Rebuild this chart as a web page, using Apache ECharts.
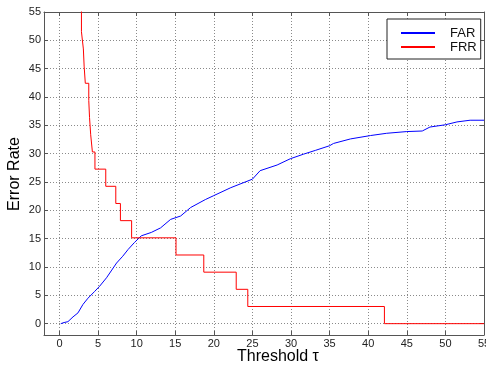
<!DOCTYPE html>
<html>
<head>
<meta charset="utf-8">
<script src="https://cdn.jsdelivr.net/npm/echarts@6/dist/echarts.min.js"></script>
<style>
html,body{margin:0;padding:0;background:#fff;}
#chart{width:486px;height:369px;}
</style>
</head>
<body>
<div id="chart"></div>
<script>
// threshold / error rate values
const tickValues = [0, 5, 10, 15, 20, 25, 30, 35, 40, 45, 50, 55]
const farData = [
	[0.17, 0], [0.6, 0.2], [1.1, 0.35], [1.76, 1.2], [2.4, 1.9], [3.05, 3.4],
	[3.7, 4.5], [4.57, 5.7], [5.2, 6.6], [6.1, 8.1], [6.7, 9.3], [7.4, 10.7],
	[8.2, 11.9], [8.9, 13.1], [9.7, 14.3], [10.6, 15.5], [11.9, 16.1], [13.1, 16.9],
	[14.4, 18.4], [15.7, 19.0], [17, 20.5], [18.9, 21.9], [20, 22.6], [22.2, 24.0],
	[25, 25.5], [26, 27], [28.2, 28.0], [29.9, 29.1], [31.6, 29.9], [33.2, 30.6],
	[35, 31.4], [35.5, 31.8], [37.7, 32.6], [40.3, 33.2], [42.4, 33.6], [45, 33.9],
	[47, 34.0], [48, 34.7], [50, 35.1], [51.5, 35.6], [53.2, 35.9], [55, 35.9]
]
// FRR: [threshold where the level begins, level]
const frrData = [
	[2.85, 60.61], [2.85, 51.52], [3.1, 48.48], [3.2, 45.45], [3.35, 42.42],
	[3.8, 39.39], [3.9, 36.36], [4.05, 33.33], [4.27, 30.30], [4.6, 27.27],
	[6.0, 24.24], [7.3, 21.21], [7.9, 18.18], [9.35, 15.15], [15.1, 12.12],
	[18.7, 9.09], [22.9, 6.06], [24.4, 3.03], [42.1, 0], [55, 0]
]

const font = 'Liberation Sans, Arial, sans-serif'
const gridLine = { show: true, lineStyle: { color: '#8a8a8a', type: [1, 2], width: 1 } }

function axis(pos, labels) {
	return {
		type: 'value', position: pos, min: -2, max: 55,
		axisLine: { show: true, onZero: false, lineStyle: { color: '#555', width: 1 } },
		axisTick: { show: true, inside: true, length: 4, customValues: tickValues, lineStyle: { color: '#555' } },
		axisLabel: { show: labels, customValues: tickValues, color: '#222', fontSize: 11, fontFamily: font, margin: 3, showMaxLabel: true, showMinLabel: true },
		splitLine: labels ? Object.assign({ customValues: tickValues }, gridLine) : { show: false }
	}
}

let myChart = echarts.init(document.getElementById('chart'))
let option = {
	animation: false,
	grid: { left: 44, right: 2, top: 12, bottom: 34, outerBoundsMode: 'none', containLabel: false },
	legend: {
		orient: 'vertical', left: 387, top: 19,
		padding: [7, 4, 5, 14], itemGap: 0, itemWidth: 34, itemHeight: 2, icon: 'rect',
		borderColor: '#222', borderWidth: 1, backgroundColor: '#fff',
		textStyle: { fontSize: 13, fontFamily: font, color: '#111', lineHeight: 14, padding: [0, 0, 0, 10] },
		data: ['FAR', 'FRR']
	},
	xAxis: [axis('bottom', true), axis('top', false)],
	yAxis: [axis('left', true), axis('right', false)],
	graphic: [
		{ type: 'text', left: 237, top: 349, style: { text: 'Threshold τ', fontSize: 16, fontFamily: font, fill: '#000' } },
		{ type: 'text', x: 15, y: 174, rotation: Math.PI / 2, style: { text: 'Error Rate', fontSize: 16, fontFamily: font, fill: '#000', align: 'center', verticalAlign: 'middle' } }
	],
	series: [
		{ name: 'FAR', type: 'line', data: farData, symbol: 'none', lineStyle: { color: '#0000ff', width: 1 }, itemStyle: { color: '#0000ff' } },
		{ name: 'FRR', type: 'line', step: 'end', data: frrData, symbol: 'none', lineStyle: { color: '#ff0000', width: 1 }, itemStyle: { color: '#ff0000' } }
	]
}
myChart.setOption(option)
</script>
</body>
</html>
